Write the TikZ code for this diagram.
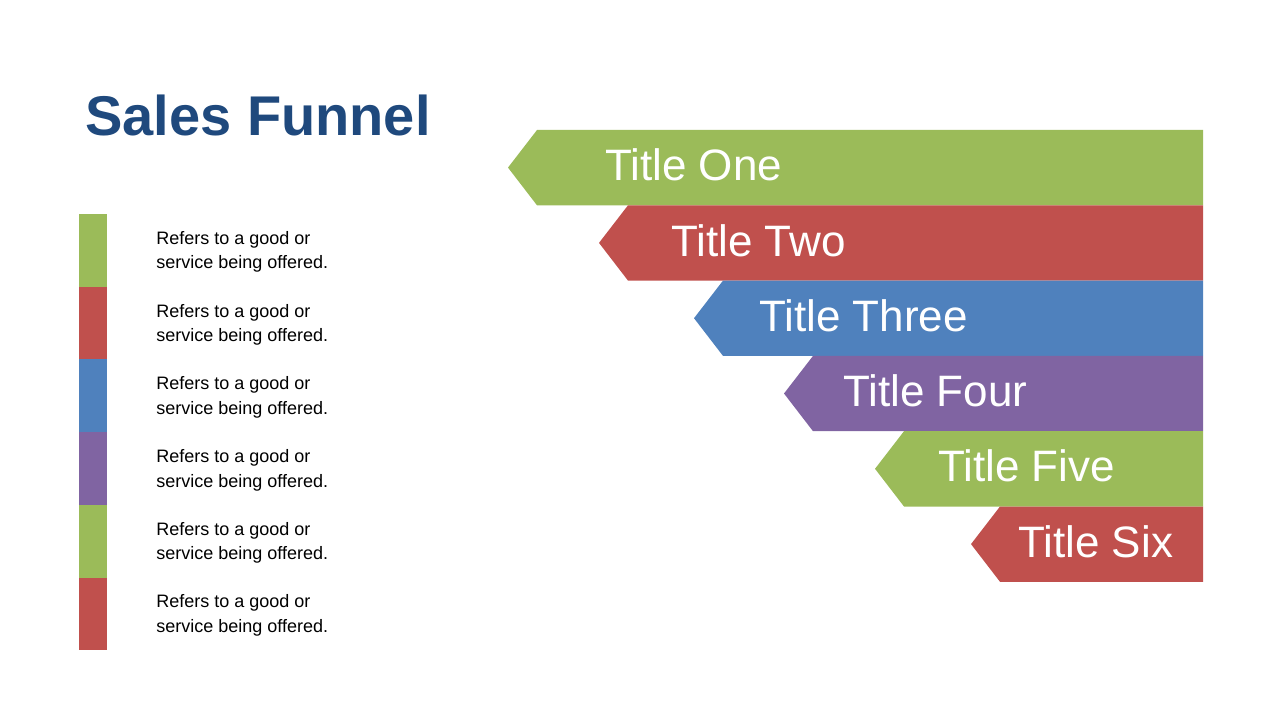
\documentclass[tikz,border=0pt]{standalone}
\usepackage{fontspec}
\setmainfont{Liberation Sans}
\usetikzlibrary{positioning}
\definecolor{fgreen}{HTML}{9BBB59}
\definecolor{fred}{HTML}{C0504D}
\definecolor{fblue}{HTML}{4F81BD}
\definecolor{fpurple}{HTML}{8064A2}
\definecolor{ftitle}{HTML}{1F497D}
\begin{document}
\begin{tikzpicture}[x=0.75pt,y=-0.75pt,
  banner/.style={text=white,font=\fontsize{33}{36}\selectfont,anchor=west,inner sep=0pt},
  note/.style={font=\fontsize{13.5}{18.5}\selectfont,anchor=west,align=left,inner sep=0pt}]
\useasboundingbox (0,0) rectangle (1280,720);
\node[anchor=west,text=ftitle,font=\fontsize{42}{46}\selectfont\bfseries,inner sep=0pt] (title) at (85,115) {Sales Funnel};
% funnel banners
\foreach \tip/\txt/\col/\name [count=\i] in {508/605/fgreen/One,599/671/fred/Two,694/759/fblue/Three,784/843/fpurple/Four,875/938/fgreen/Five,971/1018/fred/Six}
{
  \pgfmathsetmacro\top{130+75.3*(\i-1)}
  \fill[\col] (\tip,\top+37.6) -- (\tip+29,\top) -- (1203,\top) -- (1203,\top+75.3) -- (\tip+29,\top+75.3) -- cycle;
  \node[banner] (band\i) at (\txt,\top+35) {Title \name};
}
% legend
\foreach \col [count=\i] in {fgreen,fred,fblue,fpurple,fgreen,fred}
{
  \pgfmathsetmacro\top{214+72.7*(\i-1)}
  \fill[\col] (79,\top) rectangle (107,\top+72.7);
  \node[note] (note\i) at (156,\top+38) {Refers to a good or\\service being offered.};
}
\end{tikzpicture}
\end{document}
